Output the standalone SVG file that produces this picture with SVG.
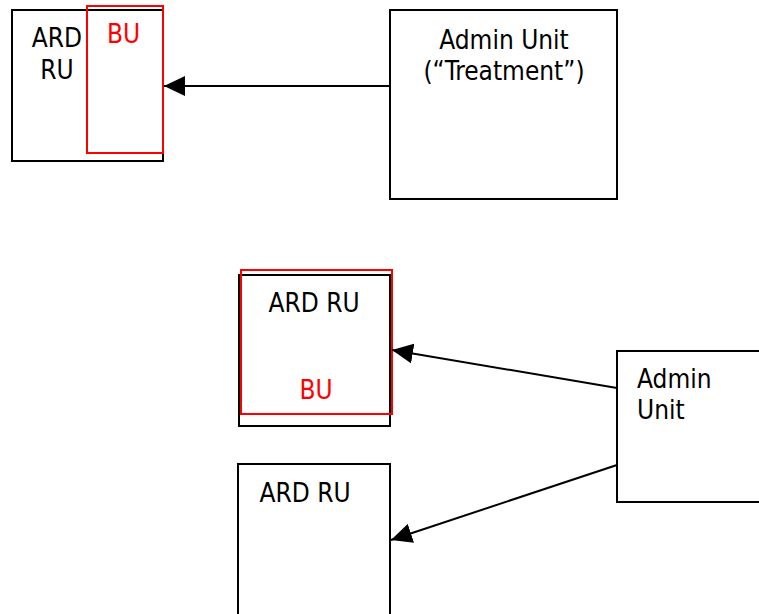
<svg xmlns="http://www.w3.org/2000/svg" width="759" height="614" viewBox="0 0 759 614">
<style>
  .box { fill: none; stroke: #000; stroke-width: 2; }
  .bu { fill: none; stroke: #ff0000; stroke-width: 2; }
  .t { font-family: "DejaVu Sans Condensed", "DejaVu Sans", sans-serif; font-stretch: condensed; font-size: 26px; fill: #000; }
  .tr { fill: #ff0000; }
  .c { text-anchor: middle; }
  .conn { stroke: #000; stroke-width: 2; fill: none; marker-end: url(#arrow); }
</style>
<defs>
  <marker id="arrow" markerUnits="userSpaceOnUse" markerWidth="21" markerHeight="20" refX="21" refY="10" orient="auto" viewBox="0 0 21 20">
    <path d="M0,0 L21,10 L0,20 z" fill="#000"/>
  </marker>
</defs>
<rect width="759" height="614" fill="#fff"/>

<g id="ard-ru-1">
  <rect class="box" x="12" y="10" width="151" height="151"/>
  <text class="t c" x="57" y="47">ARD</text>
  <text class="t c" x="57" y="79">RU</text>
</g>
<g id="bu-1">
  <rect class="bu" x="87" y="6" width="76" height="147"/>
  <text class="t tr c" x="123.5" y="43">BU</text>
</g>

<g id="admin-unit-treatment">
  <rect class="box" x="390" y="10" width="227" height="189"/>
  <text class="t c" x="504" y="49">Admin Unit</text>
  <text class="t c" x="504" y="80">(“Treatment”)</text>
</g>

<g id="ard-ru-2">
  <rect class="box" x="239" y="275" width="151" height="151"/>
  <text class="t c" x="314" y="312">ARD RU</text>
</g>
<g id="bu-2">
  <rect class="bu" x="241" y="270" width="151" height="144"/>
  <text class="t tr c" x="316" y="399">BU</text>
</g>

<g id="ard-ru-3">
  <rect class="box" x="238" y="464" width="152" height="160"/>
  <text class="t c" x="305" y="502">ARD RU</text>
</g>

<g id="admin-unit">
  <rect class="box" x="617" y="351" width="160" height="151"/>
  <text class="t" x="637" y="388">Admin</text>
  <text class="t" x="637" y="419">Unit</text>
</g>

<g id="connectors">
  <line class="conn" x1="390" y1="86" x2="164" y2="86"/>
  <line class="conn" x1="617" y1="388" x2="392" y2="350"/>
  <line class="conn" x1="617" y1="465" x2="391" y2="540"/>
</g>
</svg>
